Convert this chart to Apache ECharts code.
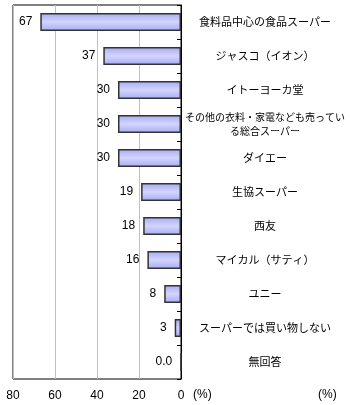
<!DOCTYPE html>
<html><head><meta charset="utf-8">
<script src="https://cdn.jsdelivr.net/npm/echarts@6/dist/echarts.min.js"></script>
<style>html,body{margin:0;padding:0;background:#fff;overflow:hidden}#c{width:350px;height:405px}</style>
</head><body><div id="c"></div>
<script>
const categories = ["食料品中心の食品スーパー","ジャスコ（イオン）","イトーヨーカ堂","その他の衣料・家電なども売っている総合スーパー","ダイエー","生協スーパー","西友","マイカル（サティ）","ユニー","スーパーでは買い物しない","無回答"];
const values = [67,37,30,30,30,19,18,16,8,3,0];
const valueLabels = ["67","37","30","30","30","19","18","16","8","3","0.0"];
const xTicks = [0,20,40,60,80];
const unitLabel = "(%)";
const font = '"Noto Sans CJK JP", sans-serif';
const numFont = 'Arial, "Liberation Sans", sans-serif';

const chart = echarts.init(document.getElementById('c'));
chart.setOption({
  animation:false,
  grid:{left:13,right:169,top:5,bottom:26,containLabel:false,outerBoundsMode:'none',
    show:true,borderColor:'#000',borderWidth:1,backgroundColor:'transparent'},
  xAxis:{type:'value',inverse:true,min:xTicks[0],max:xTicks[xTicks.length-1],interval:20,
    axisLine:{show:false},axisTick:{show:false},
    splitLine:{show:true,lineStyle:{color:'#c0c0c0',width:1}},
    axisLabel:{color:'#000',fontSize:12,fontFamily:numFont,margin:11,
      formatter:v=>xTicks.includes(v)?String(v):''}},
  yAxis:{type:'category',data:categories,inverse:true,position:'right',
    axisLine:{show:true,lineStyle:{color:'#000',width:1}},
    axisTick:{show:true,inside:true,length:4,lineStyle:{color:'#000'}},
    axisLabel:{color:'#000',fontSize:11,fontFamily:font,align:'center',margin:84,lineHeight:14,
      rich:{s:{fontSize:10,fontFamily:font,color:'#000',lineHeight:14,align:'center'}},
      formatter:s=>s.length>16?'{s|'+s.slice(0,16)+'}\n{s|'+s.slice(16)+'}':s}},
  series:[{type:'bar',data:values,barWidth:18,
    itemStyle:{borderColor:'#333',borderWidth:1.5,
      color:new echarts.graphic.LinearGradient(0,0,0,1,[
        {offset:0,color:'#a4acf0'},{offset:0.5,color:'#d4d4ff'},{offset:1,color:'#a4acf0'}])},
    label:{show:true,position:'left',distance:8,color:'#000',fontSize:12,fontFamily:numFont,
      formatter:p=>valueLabels[p.dataIndex]}}],
  graphic:[
    {type:'text',left:193,top:389,style:{text:unitLabel,fontSize:12,fontFamily:numFont,fill:'#000'}},
    {type:'text',left:318,top:389,style:{text:unitLabel,fontSize:12,fontFamily:numFont,fill:'#000'}}
  ]
});
</script></body></html>
